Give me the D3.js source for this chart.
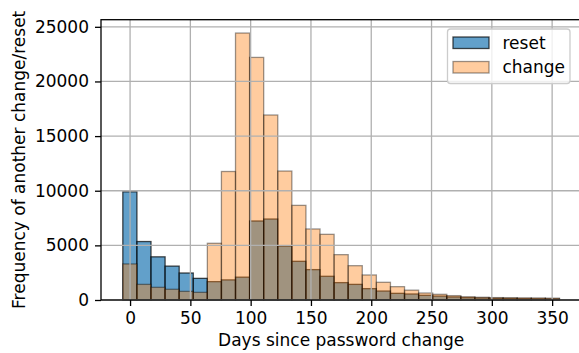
<!DOCTYPE html>
<html>
<head>
<meta charset="utf-8">
<script src="https://cdn.jsdelivr.net/npm/d3@7"></script>
<style>
  html, body { margin: 0; padding: 0; background: #fff; }
  svg { display: block; font-family: "DejaVu Sans", sans-serif; }
</style>
</head>
<body>
<div id="chart"></div>
<script>
// ---- data ----
const binStart = -6;       // days, left edge of first bin
const binWidth = 11.68;    // days per bin
const resetCounts  = [9900, 5350, 3950, 3100, 2470, 1980, 1680, 1840, 2090, 7230,
                      7410, 4940, 3540, 2780, 2170, 1590, 1430, 1040, 820, 610,
                      550, 430, 360, 280, 210, 180, 150, 140, 120, 110, 100];
const changeCounts = [3300, 1430, 1160, 980, 790, 700, 5190, 11760, 24430, 22200,
                      16930, 11800, 8660, 6500, 6010, 4150, 3140, 2290, 1620, 1220,
                      900, 640, 520, 400, 300, 250, 220, 210, 200, 190, 170];
const xTicks = [0, 50, 100, 150, 200, 250, 300, 350];
const yTicks = [0, 5000, 10000, 15000, 20000, 25000];
const seriesNames = ["reset", "change"];
const xLabel = "Days since password change";
const yLabel = "Frequency of another change/reset";

// ---- layout ----
const W = 579, H = 353;
const L = 101, R = 581.3, T = 19.7, B = 300;
const fs = 17;

const svg = d3.select("#chart").append("svg").attr("width", W).attr("height", H);

const nBins = resetCounts.length;
const dataMin = binStart, dataMax = binStart + binWidth * nBins;
const pad = (dataMax - dataMin) * 0.05;
const x = d3.scaleLinear().domain([dataMin - pad, dataMax + pad]).range([L, R]);
const yMax = d3.max(resetCounts.concat(changeCounts)) * 1.05;
const y = d3.scaleLinear().domain([0, yMax]).range([B, T]);

const bins = (counts) => counts.map((c, i) => ({
  x0: binStart + binWidth * i, x1: binStart + binWidth * (i + 1), v: c
}));

const styles = [
  { fill: "rgba(31,119,180,0.7)", stroke: "rgba(0,0,0,0.7)" },
  { fill: "rgba(255,127,14,0.4)", stroke: "rgba(0,0,0,0.4)" }
];

[resetCounts, changeCounts].forEach((counts, k) => {
  svg.append("g").selectAll("rect").data(bins(counts)).join("rect")
    .attr("x", d => x(d.x0))
    .attr("y", d => y(d.v))
    .attr("width", d => x(d.x1) - x(d.x0))
    .attr("height", d => y(0) - y(d.v))
    .attr("fill", styles[k].fill)
    .attr("stroke", styles[k].stroke)
    .attr("stroke-width", 1.3);
});

// grid (drawn above patches, as in matplotlib)
const grid = svg.append("g").attr("stroke", "#b0b0b0").attr("stroke-width", 1.3);
grid.selectAll("line.v").data(xTicks).join("line")
  .attr("x1", d => x(d)).attr("x2", d => x(d)).attr("y1", T).attr("y2", B);
grid.selectAll("line.h").data(yTicks).join("line")
  .attr("x1", L).attr("x2", R).attr("y1", d => y(d)).attr("y2", d => y(d));

// axes
const xAxis = d3.axisBottom(x).tickValues(xTicks).tickSize(6).tickPadding(6).tickFormat(d3.format("d"));
const yAxis = d3.axisLeft(y).tickValues(yTicks).tickSize(6).tickPadding(6).tickFormat(d3.format("d"));
const gx = svg.append("g").attr("transform", `translate(0,${B})`).call(xAxis);
const gy = svg.append("g").attr("transform", `translate(${L},0)`).call(yAxis);
[gx, gy].forEach(g => {
  g.select(".domain").remove();
  g.selectAll(".tick line").attr("stroke", "#000").attr("stroke-width", 1.3);
  g.selectAll(".tick text").attr("fill", "#000").attr("font-size", fs)
    .attr("font-family", "DejaVu Sans");
});

// spines
const sp = svg.append("g").attr("stroke", "#000").attr("stroke-width", 1.3).attr("fill", "none");
sp.append("rect").attr("x", L).attr("y", T).attr("width", R - L).attr("height", B - T);

// labels
svg.append("text").attr("x", (L + R) / 2).attr("y", 346).attr("text-anchor", "middle")
  .attr("font-size", fs).attr("fill", "#000").text(xLabel);
svg.append("text").attr("transform", `translate(25,${(T + B) / 2}) rotate(-90)`)
  .attr("text-anchor", "middle").attr("font-size", fs).attr("fill", "#000").text(yLabel);

// legend
const lg = svg.append("g");
lg.append("rect").attr("x", 447.5).attr("y", 29).attr("width", 122.5).attr("height", 54.5)
  .attr("rx", 3).attr("fill", "rgba(255,255,255,0.8)").attr("stroke", "#cccccc").attr("stroke-width", 1.3);
seriesNames.forEach((name, k) => {
  const yy = 37 + k * 24.5;
  lg.append("rect").attr("x", 453).attr("y", yy).attr("width", 36).attr("height", 11.5)
    .attr("fill", styles[k].fill).attr("stroke", styles[k].stroke).attr("stroke-width", 1.3);
  lg.append("text").attr("x", 502.5).attr("y", yy + 11.5).attr("font-size", fs)
    .attr("fill", "#000").text(name);
});
</script>
</body>
</html>
